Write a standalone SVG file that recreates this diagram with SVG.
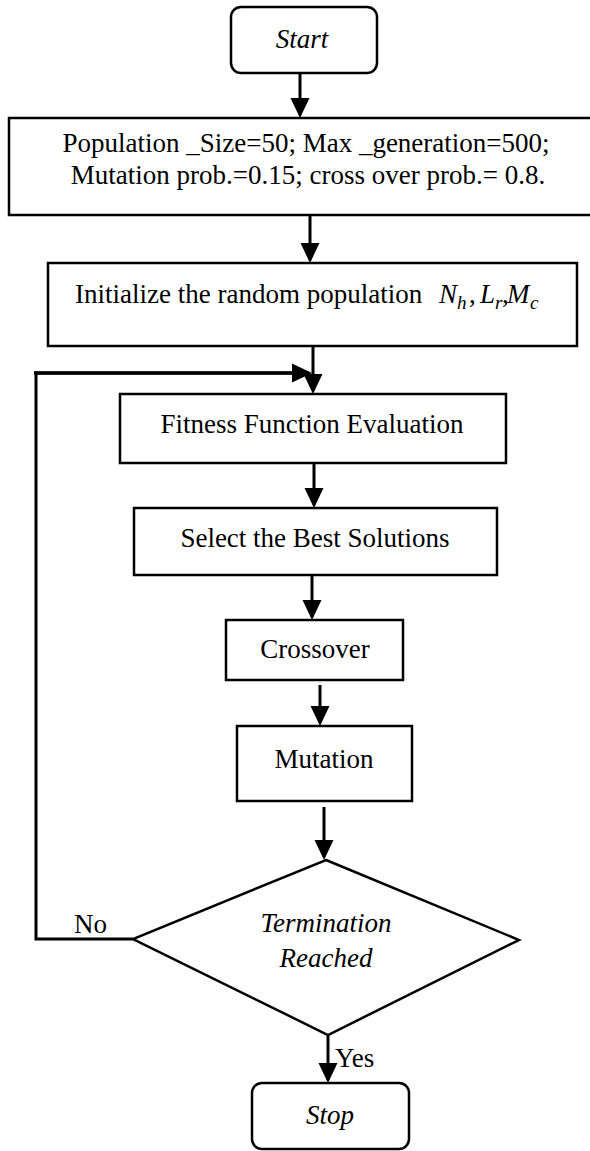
<svg xmlns="http://www.w3.org/2000/svg" width="590" height="1151" viewBox="0 0 590 1151">
<style>
.box{fill:#fff;stroke:#000;stroke-width:2.5}
.t{font-family:"Liberation Serif","Times New Roman",serif;font-size:27px;fill:#000}
.i{font-style:italic}
.c{text-anchor:middle}
.sub{font-size:19px}
.conn{fill:none;stroke:#000;stroke-width:3}
</style>
<defs>
<marker id="ah" markerUnits="userSpaceOnUse" markerWidth="20" markerHeight="20" refX="17" refY="10" orient="auto">
<path d="M0,0.5 L20,10 L0,19.5 z" fill="#000"/>
</marker>
</defs>
<g id="connectors">
<path class="conn" d="M300,73 V115" marker-end="url(#ah)"/>
<path class="conn" d="M310,215 V260" marker-end="url(#ah)"/>
<path class="conn" d="M313,346 V391" marker-end="url(#ah)"/>
<path class="conn" d="M314,463 V505" marker-end="url(#ah)"/>
<path class="conn" d="M312,575 V617" marker-end="url(#ah)"/>
<path class="conn" d="M320,685 V723" marker-end="url(#ah)"/>
<path class="conn" d="M324,807 V857" marker-end="url(#ah)"/>
<path class="conn" d="M328,1035 V1080" marker-end="url(#ah)"/>
<path class="conn" d="M133,939 H36 V373 H309" stroke-width="2" marker-end="url(#ah)"/>
<path d="M34,373 H300" stroke="#000" stroke-width="3.5" fill="none"/>
</g>
<g id="start">
<rect class="box" x="231" y="7" width="146" height="66" rx="10"/>
<text class="t i c" x="302" y="48">Start</text>
</g>
<g id="params">
<rect class="box" x="9" y="118" width="590" height="97"/>
<text class="t c" x="306" y="152">Population _Size=50; Max _generation=500;</text>
<text class="t c" x="308" y="184">Mutation prob.=0.15; cross over prob.= 0.8.</text>
</g>
<g id="init">
<rect class="box" x="48" y="263" width="529" height="83"/>
<text class="t" x="75" y="303">Initialize the random population</text>
<text class="t i" x="439" y="303">N</text>
<text class="t i sub" x="457" y="309">h</text>
<text class="t" x="469" y="303">,</text>
<text class="t i" x="480" y="303">L</text>
<text class="t i sub" x="495" y="309">r</text>
<text class="t" x="502" y="303">,</text>
<text class="t i" x="507" y="303">M</text>
<text class="t i sub" x="530" y="309">c</text>
</g>
<g id="fitness">
<rect class="box" x="120" y="394" width="386" height="69"/>
<text class="t c" x="312" y="433">Fitness Function Evaluation</text>
</g>
<g id="select">
<rect class="box" x="134" y="508" width="363" height="67"/>
<text class="t c" x="315" y="547">Select the Best Solutions</text>
</g>
<g id="crossover">
<rect class="box" x="226" y="620" width="177" height="60"/>
<text class="t c" x="315" y="658">Crossover</text>
</g>
<g id="mutation">
<rect class="box" x="237" y="726" width="175" height="75"/>
<text class="t c" x="324" y="768">Mutation</text>
</g>
<g id="decision">
<polygon class="box" points="326,860 519,940 328,1035 133,939"/>
<text class="t i c" x="326" y="932">Termination</text>
<text class="t i c" x="326" y="967">Reached</text>
</g>
<g id="labels">
<text class="t" x="74" y="933">No</text>
<text class="t" x="335" y="1067">Yes</text>
</g>
<g id="stop">
<rect class="box" x="252" y="1083" width="157" height="66" rx="10"/>
<text class="t i c" x="330" y="1124">Stop</text>
</g>
</svg>
